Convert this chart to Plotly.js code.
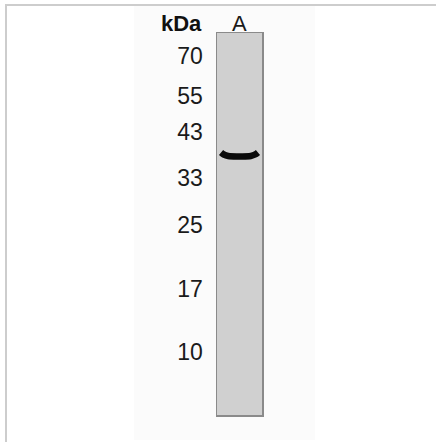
<!DOCTYPE html>
<html>
<head>
<meta charset="utf-8">
<script src="https://cdn.plot.ly/plotly-3.0.1.min.js"></script>
<style>
  html, body { margin: 0; padding: 0; background: #ffffff; }
  #wrap { position: relative; width: 436px; height: 442px; overflow: hidden; }
  #frame { position: absolute; left: 5px; top: 4px; width: 440px; height: 436px;
           border: 2px solid #cdcdcd; box-sizing: content-box; }
  #haze { position: absolute; left: 134px; top: 6px; width: 181px; height: 434px; background: #fbfbfb; }
  #chart { position: absolute; left: 0; top: 0; width: 436px; height: 442px; }
</style>
</head>
<body>
<div id="wrap">
  <div id="frame"></div>
  <div id="haze"></div>
  <div id="chart"></div>
</div>
<script>
// Molecular-weight markers (kDa) and their relative migration (0 = lane top, 1 = lane bottom)
var markerLabels = ["70", "55", "43", "33", "25", "17", "10"];
var markerMigration = [0.059, 0.164, 0.260, 0.380, 0.503, 0.670, 0.834];

// Lane names
var laneNames = ["A"];

// Detected band in lane A: relative migration and its curvature profile across the lane
var bandMigration = [0.32];
var bandAcross = [0.09, 0.15, 0.25, 0.5, 0.75, 0.85, 0.91];
var bandBow = [-0.007, -0.002, 0.002, 0.003, 0.002, -0.002, -0.007];

var bandY = bandBow.map(function (d) { return bandMigration[0] + d; });

var traces = [{
  type: "scatter",
  mode: "lines",
  x: bandAcross,
  y: bandY,
  line: { color: "#0a0a0a", width: 6.5, shape: "spline", smoothing: 1 },
  hoverinfo: "skip",
  showlegend: false
}];

var layout = {
  width: 436,
  height: 442,
  margin: { l: 217, r: 174, t: 33, b: 27, pad: 0 },
  paper_bgcolor: "rgba(0,0,0,0)",
  plot_bgcolor: "#d0d0d0",
  showlegend: false,
  xaxis: {
    range: [0, 1],
    showgrid: false, zeroline: false, showticklabels: false, ticks: "",
    showline: true, mirror: true, linecolor: "#8a8a8a", linewidth: 1.5,
    fixedrange: true
  },
  yaxis: {
    range: [1, 0],
    showgrid: false, zeroline: false,
    tickmode: "array",
    tickvals: markerMigration,
    ticktext: markerLabels,
    ticks: "", ticklabelstandoff: 8,
    tickfont: { family: "Liberation Sans, Arial, sans-serif", size: 23, color: "#1a1a1a" },
    showline: true, mirror: true, linecolor: "#8a8a8a", linewidth: 1.5,
    fixedrange: true
  },
  annotations: [
    {
      xref: "paper", yref: "paper", x: -0.3, y: 1, xanchor: "right", yanchor: "bottom",
      yshift: -5, text: "<b>kDa</b>", showarrow: false,
      font: { family: "Liberation Sans, Arial, sans-serif", size: 22, color: "#111111" }
    },
    {
      xref: "x", yref: "paper", x: 0.5, y: 1, xanchor: "center", yanchor: "bottom",
      yshift: -5, text: laneNames[0], showarrow: false,
      font: { family: "Liberation Sans, Arial, sans-serif", size: 22, color: "#1a1a1a" }
    }
  ]
};

Plotly.newPlot("chart", traces, layout, { displayModeBar: false, staticPlot: true });
</script>
</body>
</html>
